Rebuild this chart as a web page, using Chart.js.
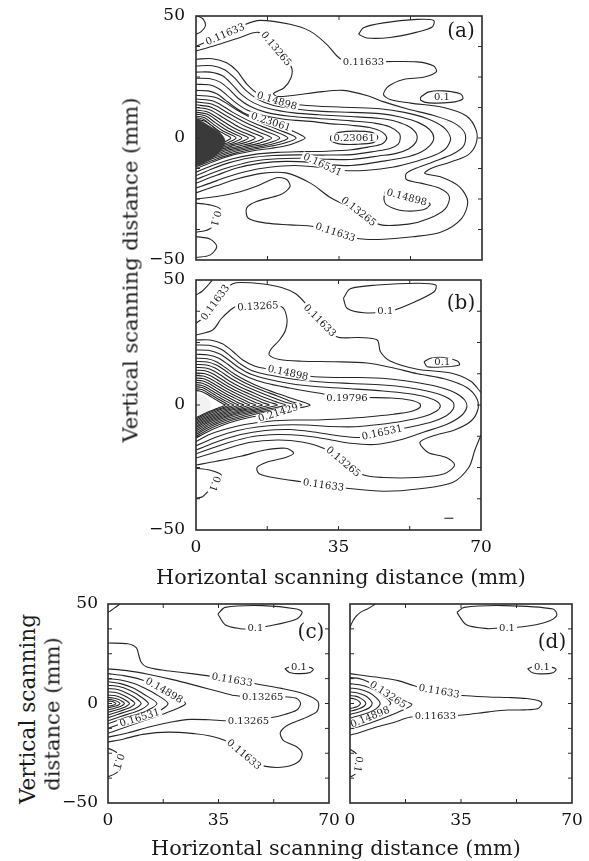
<!DOCTYPE html>
<html><head><meta charset="utf-8">
<script src="https://cdn.jsdelivr.net/npm/chart.js@4.4.1/dist/chart.umd.min.js"></script>
<style>
html,body{margin:0;padding:0;background:#fff;}
body{width:589px;height:861px;position:relative;overflow:hidden;font-family:"DejaVu Serif",serif;color:#1a1a1a;}
canvas{position:absolute;}
.t{position:absolute;white-space:nowrap;font-size:17px;line-height:1;transform:translate(-50%,-50%);}
.v{transform:translate(-50%,-50%) rotate(-90deg);}
.p{position:absolute;white-space:nowrap;font-size:20px;line-height:1;transform:translate(-50%,-50%);z-index:5;}
</style></head><body>
<canvas id="ca"></canvas><canvas id="cb"></canvas><canvas id="cc"></canvas><canvas id="cd"></canvas>
<div class="t v" data-w="345" style="left:130px;top:270px">Vertical scanning distance (mm)</div>
<div class="t" data-w="370" style="left:341px;top:577px">Horizontal scanning distance (mm)</div>
<div class="t v" data-w="190" style="left:28px;top:709px">Vertical scanning</div>
<div class="t v" data-w="153" style="left:52px;top:714px">distance (mm)</div>
<div class="t" data-w="370" style="left:336px;top:848px">Horizontal scanning distance (mm)</div>
<div class="p" style="left:461px;top:30px">(a)</div>
<div class="p" style="left:461px;top:302px">(b)</div>
<div class="p" style="left:311px;top:631px">(c)</div>
<div class="p" style="left:552px;top:641px">(d)</div>
<script>
// ---------- axis ticks ----------
const xTickValues = [0, 35, 70];
const yTickValues = [-50, 0, 50];
const xMinorTicks = [17.5, 35, 52.5];
const yMinorTicks = [-37.5, -25, -12.5, 0, 12.5, 25, 37.5];

// ---------- panel (a) contour lines [x mm, y mm] ----------
const a01TL = [[0.3,50],[1.7,48.8],[2.3,46],[1.2,43.5],[0,42.5]];
const a01TR = [[39.8,42.5],[41,45.2],[45.9,47.2],[54.1,48.6],[58.2,48.2],[57.8,45.5],[54.1,43.4],[47.5,41.2],[41.8,41],[39.8,42.5]];
const a01R = [[55,16.8],[57,18.9],[60.6,19.3],[64.8,18],[65.3,16],[62.3,14.6],[57,14.4],[55,15.5],[55,16.8]];
const a01BL1 = [[0,-26.7],[3.4,-27.4],[5.9,-29],[5.6,-32],[4.5,-35.5],[3.4,-37.2],[2.2,-38],[0,-38.6]];
const a01BL2 = [[0,-40.4],[3.4,-41.4],[5.1,-44.5],[3.4,-48],[0,-49]];
const a116 = [[0,37.5],[2,39],[7,42.5],[12,46.5],[15.7,48.2],[23,46.6],[27.9,43.8],[32,38.4],[34.5,33.6],[36.5,31.5],[41,31.3],[46,31.3],[54.1,31.2],[58.2,29.5],[58.8,27.1],[55.7,24.9],[50.8,24],[47.1,21.2],[45.9,17.8],[47.5,15.8],[52.5,14.3],[60.6,12.5],[66.2,9],[68.6,3],[68.5,-2.5],[66.5,-7],[62,-10],[57.5,-12.5],[56,-14.5],[60,-16],[64.5,-20],[66.5,-26],[65,-33],[60,-38.5],[53,-40.5],[46,-41.5],[40,-41.3],[34.1,-38.6],[29,-36.3],[23,-35.6],[17.3,-34.9],[12.8,-32.9],[12.4,-28.7],[14.8,-26],[20.6,-23.3],[23,-20],[22.2,-17],[19.7,-16.3],[14.8,-19.8],[10.8,-22],[5.1,-24],[0,-25]];
const a133 = [[0,35.7],[4.9,38],[10.8,41.2],[15.2,43.3],[18,39.5],[21,34],[23.4,28.8],[23.2,24.5],[21.5,20.5],[19,18.3],[19.8,17],[23,17.3],[31,19],[36,19.5],[42,17.3],[46,14.8],[52,11.8],[58,9.3],[63,6.3],[65.8,2],[65.6,-3],[63,-6.5],[58,-9.8],[54,-12.3],[51.5,-14.5],[51.5,-17],[55,-18.5],[59.5,-20.5],[62,-24],[61,-29],[57,-33],[52,-35.3],[45,-35.5],[39.8,-30.1],[33,-24.5],[28,-18.5],[22,-14.3],[16,-14.5],[10,-16.8],[5,-19.6],[0,-22.5]];
const a149 = [[0,32.3],[4,32.5],[7.5,30.8],[10,27.5],[12.5,22],[15.5,17.8],[20,15],[25,13.6],[30,13],[38,12.5],[45,12],[51,10.5],[56.5,8],[60.5,4.5],[62.3,0],[61.3,-4],[58.5,-7],[54,-9.5],[48,-12],[42,-13.2],[36,-13.3],[30,-12],[24,-11.3],[18,-12],[12,-13.8],[7,-16.3],[3.5,-18.5],[0,-20.5]];
const a149Loop = [[46.3,-22],[46,-25],[46.7,-27.5],[50.7,-29.8],[55.6,-29.4],[57.3,-27.4],[57,-26.5],[52,-24],[46.3,-22]];
const a165 = [[0,29.5],[4,29.6],[7,28],[9.5,24.5],[12,19.8],[15,16],[19,13.3],[25,11.8],[30,11],[38,10.5],[45,10],[50,8.6],[54.5,6.3],[57.3,3.2],[58.2,0],[57.3,-3],[55,-5.8],[51,-8],[45,-9.7],[38,-11.3],[33,-11],[28,-10],[22,-9.6],[16,-10.3],[10,-12.3],[5,-15.3],[0,-18.5]];
const a182 = [[0,27],[3.5,27],[6.5,25.5],[8.8,22],[11,18],[14,14.5],[18,12],[24,10.3],[30,9.5],[38,8.8],[45,8],[49,6.8],[52.3,4.5],[54,1.5],[53.8,-1.8],[52,-4.5],[49,-6.3],[45,-7.3],[38,-8.8],[32,-8.7],[26,-8.3],[20,-8.5],[14,-9.5],[8.5,-11.8],[4,-14.3],[0,-17]];
const a198 = [[0,24.5],[3.5,24.3],[6,22.8],[8.2,19.8],[10.3,16.3],[13.2,13],[17,10.6],[23,8.9],[30,8],[38,7],[44,6],[47.5,4.5],[49.7,2],[50,0],[49.5,-2.5],[47.5,-4.3],[44,-5.4],[38,-6.8],[31,-7],[25,-6.9],[19,-7.2],[13,-8.2],[8,-10.2],[4,-12.6],[0,-15.5]];
const a214 = [[0,22],[3.2,21.8],[5.5,20.3],[7.6,17.5],[9.7,14.5],[12.5,11.5],[16.5,9.2],[22,7.6],[28,6.8],[32,6],[38,5.2],[42.5,4.3],[45.5,2.5],[46.7,0],[45.5,-2.5],[42.5,-3.6],[38,-4.8],[32,-5.4],[26,-5.6],[20,-5.9],[14,-6.8],[9,-8.5],[4.5,-11],[0,-14]];
const a231L = [[0,19.5],[3,19.3],[5.2,18],[7.2,15.5],[9.3,12.8],[12,10],[15,8],[18.5,6.2],[22,4],[25,1.8],[26.7,0],[25,-1.5],[22,-3.2],[18.5,-4.2],[14,-5.2],[9.5,-6.8],[5,-9.2],[0,-12.5]];
const a231R = [[33,0.8],[35,2.3],[39,2.8],[43,2.3],[44.5,0.5],[43.5,-1.8],[39,-2.6],[35,-2.4],[33,-1],[33,0.8]];
const aInner = [
  [[0,17.5],[5,16.5],[10,11.5],[15,7],[20,3.5],[24.5,0],[20,-2.8],[15,-4.3],[10,-6],[5,-8.6],[0,-11.8]],
  [[0,16],[4.5,15],[9,10.5],[14,6.2],[18.5,3.2],[22.5,0],[18.5,-2.6],[14,-4],[9,-5.7],[4.5,-8.2],[0,-11.2]],
  [[0,14.8],[4,13.8],[8.5,9.6],[13,5.6],[17,2.8],[20.5,0],[17,-2.4],[13,-3.7],[8.5,-5.3],[4,-7.9],[0,-10.8]],
  [[0,13.6],[3.7,12.6],[7.8,8.7],[11.8,5],[15.3,2.5],[18.5,0],[15.3,-2.2],[11.8,-3.5],[7.8,-5],[3.7,-7.5],[0,-10.3]],
  [[0,12.5],[3.3,11.6],[7,8],[10.5,4.5],[13.7,2.2],[16.5,0],[13.7,-2],[10.5,-3.3],[7,-4.8],[3.3,-7.1],[0,-9.8]],
  [[0,11.5],[3,10.6],[6.2,7.3],[9.3,4.1],[12,2],[14.5,0],[12,-1.9],[9.3,-3.1],[6.2,-4.6],[3,-6.8],[0,-9.4]],
  [[0,10.6],[2.7,9.8],[5.5,6.7],[8.2,3.8],[10.6,1.8],[12.8,0],[10.6,-1.8],[8.2,-3],[5.5,-4.4],[2.7,-6.5],[0,-9]],
  [[0,9.8],[2.4,9],[4.8,6.2],[7.2,3.5],[9.3,1.7],[11.2,0],[9.3,-1.7],[7.2,-2.9],[4.8,-4.2],[2.4,-6.2],[0,-8.6]],
  [[0,9],[2.1,8.3],[4.2,5.7],[6.3,3.2],[8.2,1.6],[9.8,0],[8.2,-1.6],[6.3,-2.8],[4.2,-4],[2.1,-5.9],[0,-8.2]],
  [[0,8.4],[1.8,7.7],[3.7,5.3],[5.5,3],[7.1,1.5],[8.5,0],[7.1,-1.5],[5.5,-2.7],[3.7,-3.8],[1.8,-5.6],[0,-7.8]]
];
const aCore = [
  [[0,7.6],[2,7],[4.2,4.6],[5.6,2.2],[6.3,0],[5.6,-2.6],[4.2,-5],[2,-7.4],[0,-8.5]],
  [[0,6.8],[1.7,6.2],[3.5,4.1],[4.7,2],[5.3,0],[4.7,-2.4],[3.5,-4.5],[1.7,-6.6],[0,-7.6]],
  [[0,6],[1.4,5.4],[2.9,3.6],[3.9,1.8],[4.4,0],[3.9,-2.1],[2.9,-4],[1.4,-5.8],[0,-6.8]],
  [[0,5.2],[1.1,4.7],[2.3,3.1],[3.1,1.5],[3.5,0],[3.1,-1.8],[2.3,-3.5],[1.1,-5],[0,-6]],
  [[0,4.4],[0.9,4],[1.8,2.6],[2.4,1.2],[2.7,0],[2.4,-1.5],[1.8,-3],[0.9,-4.3],[0,-5.2]]
];
const aDarkCore = [[0,8.2],[3.4,4.8],[6.3,1.4],[7.1,-1.4],[5.9,-5.5],[2.6,-9.6],[0,-11],[0,8.2]];
const aWhiteArc = [[0,8.4],[3.4,5],[6.4,1.5],[7.3,-1.4],[6,-5.6],[2.6,-9.8],[0,-11.2]];
const aLabels = [
  ['0.11633', 7.1, 42.5, -23], ['0.13265', 19.6, 36.6, 50], ['0.11633', 41, 31.3, 0],
  ['0.1', 60.2, 16.9, 0], ['0.14898', 19.8, 15.2, 17], ['0.23061', 18.3, 6.6, 18],
  ['0.23061', 38.7, 0.2, 0], ['0.16531', 31, -10.9, 25], ['0.14898', 51.6, -24.3, 15],
  ['0.13265', 39.8, -30.1, 38], ['0.11633', 34.1, -38.6, 18], ['0.1', 4.8, -33, 105]
];

// ---------- panel (b) ----------
const b01TL = [[4,50],[3,48],[1.5,45.5],[0,44]];
const b01TR = [[36.2,42.7],[37.9,46.5],[44.5,48],[54.4,48.7],[58.9,48],[58.5,45.3],[52.7,40.5],[47.8,37.6],[41.2,36.9],[37.1,38.7],[36.2,42.7]];
const b01R = [[56,17.3],[57.6,18.7],[60.9,19],[64.2,17.6],[64.7,16],[60.9,15.3],[56.8,15.3],[56,17.3]];
const b01BL = [[0,-25.3],[3.3,-26],[6.2,-28],[5,-31.5],[3,-34.5],[1.6,-36.7],[0,-37.3]];
const bDash = [[61,-45.3],[63.2,-45.3]];
const b116U = [[0,32.7],[1.6,34.7],[3.5,38.5],[5.5,42.5],[7.5,46.5],[9,48.5],[11,49],[16,48.5],[21,47],[24.5,44.5],[27,40.5],[30.5,34],[34.6,27.3],[40,27],[44.5,26],[45.3,21.3],[47.8,17.5],[54.4,14.3],[62.6,12.8],[67.5,9.5],[70,5]];
const b116L = [[70,-12],[68.5,-18],[67,-25],[63,-31],[55,-33.5],[46,-34.5],[37,-33.3],[31.3,-32],[26,-30.7],[20,-29.3],[15.5,-27.5],[15,-25],[17.5,-22.8],[22,-21],[24,-19.2],[22,-17.3],[17,-18],[11,-20.5],[5,-22.5],[0,-24]];
const b133 = [[0,28],[4.1,30],[6.2,34.5],[8.6,38.2],[10,39.5],[15,39.7],[21,39.3],[22.3,35],[22,30],[20.5,26],[18.5,22.5],[18,20],[20.5,18.2],[26,17.5],[34,17.3],[42,16.8],[48,15],[54.4,12.5],[61,10.5],[66.5,7],[69,2.5],[69.2,-2],[67.5,-6.5],[63.5,-10],[58,-12.5],[55,-15],[57,-19],[61.5,-21],[63.5,-24],[61,-27.5],[54,-29],[46,-29],[41.2,-28],[36.2,-22.7],[31.3,-17.3],[26,-14.8],[20,-14],[13,-15],[7,-17.8],[0,-21.2]];
const b149 = [[0,26],[3.5,26],[6.5,24.5],[9,21.5],[11.5,18],[14.5,15.5],[18,14.3],[23,13],[28,11.5],[34,11],[40,11],[47,10.5],[53,9.3],[59,7.5],[63.5,5],[66,2],[66.5,-1],[65,-4.5],[61.5,-7.8],[56,-10.8],[50,-14],[44,-15.8],[38,-15.3],[32,-13.6],[26,-12.2],[20,-11.8],[14,-12.6],[8,-15],[3.5,-17.5],[0,-19.5]];
const b165 = [[0,24],[3.5,23.8],[6.2,22.3],[8.5,19.5],[11,16.3],[14,13.6],[18,12],[24,10.3],[30,9.3],[38,8.6],[46,8],[52,7],[57,5.5],[61,3.5],[63.2,1],[63.2,-1.5],[61.5,-4.3],[57.5,-7],[51,-9.3],[46,-11],[40.4,-13],[35,-12.3],[29,-10.8],[23,-9.8],[17,-10.2],[11,-11.8],[5.5,-14.5],[0,-18]];
const b182 = [[0,22],[3.3,21.8],[6,20.3],[8.2,17.8],[10.5,15],[13.5,12.3],[17.5,10.4],[23,8.6],[30,7.3],[38,6.5],[46,5.6],[52,4.6],[56.5,3.2],[59.3,1.3],[60,-0.5],[59,-2.5],[56,-4.6],[51,-6.4],[45,-7.8],[39,-8.7],[33,-8.6],[27,-8],[21,-8],[15,-8.8],[10,-10.3],[5,-12.8],[0,-16.3]];
const b198 = [[0,20.3],[3,20],[5.6,18.7],[7.8,16.3],[10,13.6],[13,11],[17,8.8],[23,6.8],[30,4.8],[36,3.3],[42,3],[48,2.8],[52.5,2],[55,0.5],[55,-1],[53,-2.5],[48.5,-3.7],[42,-4.8],[36,-5.5],[30,-6],[24,-6],[18,-6.5],[12,-7.8],[6.5,-10],[3,-12],[0,-14.7]];
const b214 = [[0,18.7],[2.8,18.5],[5,17.3],[7.2,15],[9.5,12.3],[12.5,9.6],[16,7],[20,4.6],[24,2.4],[28,0],[25,-1.3],[21,-2.8],[17,-3.8],[12.5,-5.2],[8,-7.2],[4,-9.8],[0,-13.2]];
const bInner = [
  [[0,17.4],[2.8,17.2],[5,16],[7.2,13.7],[9.5,11.1],[12.5,8.5],[16,6],[20,3.6],[23.5,1.3],[26,0],[23.5,-1.1],[20,-2.2],[16,-3.2],[12.5,-4.5],[8,-6.5],[4,-9],[0,-12.5]],
  [[0,16.2],[2.6,16],[4.7,14.8],[6.8,12.6],[9,10.2],[11.8,7.8],[15,5.5],[18.5,3.2],[21.8,1.2],[24,0],[21.8,-1],[18.5,-2],[15,-2.9],[11.8,-4.1],[7.6,-6],[3.8,-8.4],[0,-11.8]],
  [[0,15],[2.4,14.8],[4.4,13.6],[6.4,11.6],[8.5,9.3],[11,7.1],[14,5],[17,2.9],[20,1.1],[22,0],[20,-0.9],[17,-1.8],[14,-2.7],[11,-3.8],[7.2,-5.6],[3.6,-7.9],[0,-11.1]],
  [[0,13.9],[2.2,13.7],[4.1,12.5],[6,10.6],[8,8.5],[10.3,6.5],[13,4.5],[15.6,2.6],[18.2,1],[20,0],[18.2,-0.8],[15.6,-1.7],[13,-2.5],[10.3,-3.5],[6.8,-5.2],[3.4,-7.4],[0,-10.4]],
  [[0,12.8],[2,12.6],[3.8,11.5],[5.6,9.7],[7.5,7.8],[9.6,5.9],[12,4.1],[14.3,2.4],[16.4,0.9],[18,0],[16.4,-0.8],[14.3,-1.6],[12,-2.3],[9.6,-3.3],[6.4,-4.9],[3.2,-6.9],[0,-9.7]],
  [[0,11.8],[1.8,11.6],[3.5,10.5],[5.2,8.9],[7,7.1],[8.9,5.4],[11,3.7],[13,2.2],[14.9,0.8],[16.3,0],[14.9,-0.7],[13,-1.5],[11,-2.2],[8.9,-3.1],[6,-4.6],[3,-6.5],[0,-9]],
  [[0,10.8],[1.7,10.6],[3.2,9.6],[4.8,8.1],[6.4,6.5],[8.2,4.9],[10,3.4],[11.8,2],[13.4,0.7],[14.7,0],[13.4,-0.7],[11.8,-1.4],[10,-2.1],[8.2,-2.9],[5.6,-4.3],[2.8,-6.1],[0,-8.4]],
  [[0,9.9],[1.5,9.7],[2.9,8.8],[4.4,7.4],[5.9,5.9],[7.5,4.4],[9.1,3.1],[10.7,1.8],[12.1,0.7],[13.2,0],[12.1,-0.6],[10.7,-1.3],[9.1,-1.9],[7.5,-2.7],[5.2,-4],[2.6,-5.7],[0,-7.8]],
  [[0,9],[1.4,8.8],[2.6,8],[4,6.7],[5.4,5.3],[6.8,4],[8.2,2.8],[9.6,1.6],[10.8,0.6],[11.8,0],[10.8,-0.6],[9.6,-1.2],[8.2,-1.8],[6.8,-2.5],[4.8,-3.7],[2.4,-5.3],[0,-7.2]],
  [[0,8.1],[1.3,7.9],[2.4,7.2],[3.6,6],[4.9,4.8],[6.1,3.6],[7.4,2.5],[8.6,1.4],[9.7,0.5],[10.5,0],[9.7,-0.5],[8.6,-1.1],[7.4,-1.7],[6.1,-2.3],[4.4,-3.4],[2.2,-4.9],[0,-6.6]],
  [[0,7.3],[1.2,7.1],[2.2,6.5],[3.3,5.4],[4.4,4.3],[5.5,3.2],[6.6,2.2],[7.7,1.3],[8.6,0.5],[9.3,0],[8.6,-0.5],[7.7,-1],[6.6,-1.5],[5.5,-2.1],[4,-3.1],[2,-4.5],[0,-6.1]],
  [[0,6.5],[1,6.3],[2,5.8],[3,4.8],[4,3.8],[5,2.8],[6,1.9],[6.9,1.1],[7.6,0.4],[8.2,0],[7.6,-0.4],[6.9,-0.9],[6,-1.4],[5,-1.9],[3.6,-2.8],[1.8,-4.1],[0,-5.6]],
  [[0,5.8],[0.9,5.6],[1.8,5.1],[2.7,4.3],[3.6,3.4],[4.5,2.5],[5.3,1.7],[6.1,1],[6.7,0.4],[7.2,0],[6.7,-0.4],[6.1,-0.8],[5.3,-1.3],[4.5,-1.8],[3.2,-2.6],[1.6,-3.8],[0,-5.1]]
];
const bLightCore = [[0,4.6],[1.6,3.9],[3,2.4],[3.7,0],[3,-2.3],[1.6,-3.6],[0,-4.2],[0,4.6]];
const bLabels = [
  ['0.11633', 4.7, 41, -54], ['0.13265', 15.2, 39.5, -3], ['0.11633', 30.4, 33.8, 45],
  ['0.1', 46.5, 37.6, 0], ['0.1', 60.5, 17.2, 0], ['0.14898', 22.6, 12.9, 12],
  ['0.19796', 37.1, 3, 0], ['0.21429', 20.2, -3.1, -17], ['0.16531', 45.7, -11, -12],
  ['0.13265', 36.2, -22.7, 40], ['0.11633', 31.3, -32, 8], ['0.1', 4.6, -31.5, 110]
];

// ---------- panel (c) ----------
const c01TL = [[3.8,50],[2.5,48.5],[1.2,47],[0,45.8]];
const c01TR = [[34.8,45],[37.1,48.3],[49,49.2],[59.8,47.5],[61.5,45.8],[59.8,42.5],[51.4,39.1],[44.5,37.6],[41.9,37.6],[37.1,39.6],[34.8,45]];
const c01R = [[56,17.5],[57.5,15.6],[61,15],[64,15.6],[65,17.2],[63,18.4],[58,18.6],[56,17.5]];
const c01BL = [[0,-22.5],[1.5,-23.5],[3.5,-25.5],[4.2,-29],[3.8,-33],[2,-35.5],[0,-36.8]];
const c116 = [[0,30.4],[6.2,30],[9,28],[9.8,24],[10.5,20.7],[12.1,18.5],[17,16.8],[22.9,15.7],[31.2,14],[36,12.8],[42,11],[46.7,9.9],[55,7.6],[62.1,4.8],[66.5,1],[66.2,-4],[62,-7.5],[57,-10.8],[54.6,-14.5],[55.5,-18.5],[59.5,-21.5],[61.5,-25],[60.5,-29],[56.2,-31.8],[50,-31.6],[45.5,-28.5],[41,-23],[37.1,-18.6],[32,-16.2],[27.6,-15.2],[19.3,-14.4],[11,-15.5],[5,-17.8],[0,-19.4]];
const c133 = [[0,17.4],[6,16.5],[13,14.6],[20.5,12],[28.8,8.6],[35,6],[40,4],[45,3.4],[52,3.3],[57,3.3],[59.8,2.5],[61,0],[59.8,-3.3],[56,-5.5],[51.4,-7.2],[45,-8.5],[38,-8.7],[32,-8.2],[26,-8],[20.5,-9.2],[13.3,-11.7],[6.2,-14.8],[0,-16.9]];
const c149 = [[0,15],[5,14],[9.5,12.5],[13,10.5],[17,7.5],[21,4],[24.6,0],[21.5,-2.8],[17.5,-5.3],[12.5,-8],[7,-11],[3,-13.3],[0,-15]];
const c165 = [[0,12.5],[4,11.8],[8,10.2],[11.5,7.8],[15,4.8],[19,0],[16.5,-3.5],[13,-5.6],[9,-7.6],[5,-9.7],[0,-12.5]];
const cInner = [
  [[0,10.9],[4,10],[8,7.8],[11.5,4.5],[15.5,0],[12.5,-3.5],[9,-5.5],[5,-7.4],[0,-10.2]],
  [[0,9.2],[3.5,8.5],[7,6.5],[10,3.8],[12.8,0],[10.5,-3],[7.5,-4.8],[4,-6.5],[0,-8.7]],
  [[0,7.5],[3,7],[6,5.2],[8.5,3],[10.5,0],[8.5,-2.6],[6,-4],[3,-5.5],[0,-7.2]],
  [[0,5.9],[2.5,5.5],[5,4],[7,2.2],[8.5,0],[7,-2],[5,-3.2],[2.5,-4.5],[0,-5.8]],
  [[0,4.2],[2,4],[4,3],[5.6,1.6],[6.8,0],[5.6,-1.6],[4,-2.6],[2,-3.5],[0,-4.4]],
  [[0,3],[1.6,2.8],[3.2,2.1],[4.4,1.1],[5.2,0],[4.4,-1.1],[3.2,-1.9],[1.6,-2.6],[0,-3.2]],
  [[0,2],[1.2,1.9],[2.4,1.4],[3.3,0.7],[3.8,0],[3.3,-0.8],[2.4,-1.3],[1.2,-1.8],[0,-2.1]],
  [[0,1.2],[1,1.1],[1.8,0.7],[2.5,0],[1.8,-0.8],[1,-1.1],[0,-1.3]]
];
const cLabels = [
  ['0.1', 46.7, 38, 0], ['0.1', 60.5, 18.4, 0], ['0.11633', 39.3, 11.9, 10],
  ['0.13265', 49, 3.3, 0], ['0.13265', 44.5, -8.7, 0], ['0.14898', 17.8, 6.6, 30],
  ['0.16531', 10, -7.2, -17], ['0.11633', 43.1, -25.6, 40], ['0.1', 3.3, -29, 110]
];

// ---------- panel (d) ----------
const d01TL = [[8,50],[5.5,47.5],[3.3,45.8],[1.5,43],[0.3,39.5],[0,38]];
const d01TR = [[33.7,45.8],[36,48.3],[48.6,49.2],[64,47.5],[65.2,44.2],[61.7,40.8],[54.5,38.6],[46.9,38],[43.8,37.6],[36.7,39.6],[33.7,45.8]];
const d01R = [[56,17.5],[57.5,15.5],[61,14.9],[64,15.5],[65,17.1],[63,18.4],[58,18.6],[56,17.5]];
const d01BL = [[0,-23],[1.5,-24.5],[2.8,-27],[2.9,-30],[2.5,-34],[1.2,-36],[0,-37]];
const d116 = [[0,15],[8.1,13.3],[15.2,11.5],[20,9],[24,7.2],[28,6.2],[32,5],[35.5,4],[43.8,3.3],[50,3],[55.7,2.5],[59.3,1.5],[60.5,0],[59.3,-2.5],[55,-3.2],[49.8,-3.3],[43.8,-4.2],[35.5,-5.8],[30,-6.3],[24,-6.5],[18.8,-6.9],[14,-9.4],[8.1,-11.9],[3.3,-14.4],[0,-16]];
const d133 = [[0,13],[3,12.5],[5.5,11],[9,7.8],[12.5,4.6],[16,1.8],[19.5,-0.5],[17,-3],[13,-5.8],[9,-8.3],[4.5,-10.8],[0,-12.8]];
const d149 = [[0,10],[3,9.4],[6,8],[9,5.5],[12,2],[12.8,0],[11,-3],[8,-5.5],[4,-7.7],[0,-9.5]];
const dInner = [
  [[0,7.8],[3,7.2],[6,5.5],[8.3,2.8],[9.5,0],[8.3,-2.6],[6,-4.5],[3,-6],[0,-7.4]],
  [[0,5.8],[2.4,5.3],[4.7,4],[6.3,2],[7,0],[6.2,-2],[4.6,-3.3],[2.4,-4.5],[0,-5.5]],
  [[0,4],[1.7,3.7],[3.3,2.7],[4.5,1.3],[5,0],[4.4,-1.4],[3.2,-2.4],[1.7,-3.2],[0,-3.9]],
  [[0,2.6],[1.2,2.4],[2.3,1.7],[3,0.8],[3.3,0],[2.9,-0.9],[2.2,-1.6],[1.1,-2.1],[0,-2.5]]
];
const dLabels = [
  ['0.1', 49.5, 38.1, 0], ['0.1', 60.5, 18.4, 0], ['0.11633', 28.1, 6.2, 10],
  ['0.11633', 26.9, -6.4, 0], ['0.13265', 12, 4.5, 33], ['0.14898', 6.3, -6.8, -22],
  ['0.1', 2.6, -30.5, 100]
];

// ---------- rendering ----------
const LINE = '#262626';
const LABELS = {};
const SERIF = '"DejaVu Serif", serif';

// fit the HTML titles to the reference widths
document.querySelectorAll('[data-w]').forEach(el => {
  const w = el.offsetWidth;
  el.style.fontSize = (17 * (+el.dataset.w) / w).toFixed(2) + 'px';
});

const labelPlugin = {
  id: 'clabels',
  afterDatasetsDraw(chart) {
    const cfg = LABELS[chart.canvas.id];
    if (!cfg) return;
    const ctx = chart.ctx, xs = chart.scales.x, ys = chart.scales.y;
    ctx.save();
    ctx.font = cfg.size + 'px ' + SERIF;
    ctx.textAlign = 'center';
    ctx.textBaseline = 'middle';
    for (const [t, x, y, r] of cfg.items) {
      const px = xs.getPixelForValue(x), py = ys.getPixelForValue(y);
      ctx.save();
      ctx.translate(px, py);
      ctx.rotate(r * Math.PI / 180);
      const w = ctx.measureText(t).width;
      ctx.fillStyle = '#fff';
      ctx.fillRect(-w / 2 - 2, -cfg.size * 0.42, w + 4, cfg.size * 0.84);
      ctx.fillStyle = '#1e1e1e';
      ctx.fillText(t, 0, 0.5);
      ctx.restore();
    }
    ctx.restore();
  }
};

const framePlugin = {
  id: 'frame',
  afterDatasetsDraw(chart) {
    const ctx = chart.ctx, a = chart.chartArea, xs = chart.scales.x, ys = chart.scales.y;
    ctx.save();
    ctx.strokeStyle = '#2a2a2a';
    ctx.lineWidth = 1.6;
    ctx.strokeRect(a.left, a.top, a.right - a.left, a.bottom - a.top);
    ctx.lineWidth = 1;
    ctx.beginPath();
    for (const v of xMinorTicks) {
      const p = xs.getPixelForValue(v);
      ctx.moveTo(p, a.top); ctx.lineTo(p, a.top + 4);
      ctx.moveTo(p, a.bottom); ctx.lineTo(p, a.bottom - 4);
    }
    for (const v of yMinorTicks) {
      const p = ys.getPixelForValue(v);
      ctx.moveTo(a.left, p); ctx.lineTo(a.left + 4, p);
      ctx.moveTo(a.right, p); ctx.lineTo(a.right - 4, p);
    }
    ctx.stroke();
    ctx.restore();
  }
};

function pts(arr) { return arr.map(p => ({x: p[0], y: p[1]})); }

function makePanel(id, area, o) {
  const yW = o.yW, xH = o.showX ? 30 : 0;
  const pad = {top: 26, right: 22, bottom: o.showX ? 4 : 26, left: 0};
  const cv = document.getElementById(id);
  const w = yW + (area.r - area.l) + pad.right;
  const h = pad.top + (area.b - area.t) + xH + pad.bottom;
  cv.width = w; cv.height = h;
  cv.style.width = w + 'px'; cv.style.height = h + 'px';
  cv.style.left = (area.l - yW) + 'px'; cv.style.top = (area.t - pad.top) + 'px';
  LABELS[id] = {items: o.labels, size: o.labelSize};
  const ds = [];
  (o.fills || []).forEach(f => ds.push({data: pts(f.d), showLine: true, fill: 'shape', backgroundColor: f.c, borderColor: f.c, borderWidth: 0.5, pointRadius: 0, tension: 0.3}));
  o.lines.forEach(d => ds.push({data: pts(d), showLine: true, fill: false, borderColor: LINE, borderWidth: 1.1, pointRadius: 0, tension: 0.3}));
  (o.dark || []).forEach(d => ds.push({data: pts(d), showLine: true, fill: false, borderColor: '#0a0a0a', borderWidth: 1, pointRadius: 0, tension: 0.3}));
  (o.white || []).forEach(d => ds.push({data: pts(d), showLine: true, fill: false, borderColor: '#f4f4f4', borderWidth: 2.6, pointRadius: 0, tension: 0.3}));
  (o.topFills || []).forEach(f => ds.push({data: pts(f.d), showLine: true, fill: 'shape', backgroundColor: f.c, borderColor: f.c, borderWidth: 0.5, pointRadius: 0, tension: 0.3}));
  const tickFont = {family: SERIF, size: 17};
  new Chart(cv, {
    type: 'scatter',
    data: {datasets: ds},
    options: {
      responsive: false, animation: false, devicePixelRatio: 1, events: [],
      layout: {padding: pad},
      plugins: {legend: {display: false}, tooltip: {enabled: false}},
      scales: {
        x: {type: 'linear', min: 0, max: 70,
            afterBuildTicks: s => { s.ticks = xTickValues.map(v => ({value: v})); },
            ticks: {display: o.showX, padding: 7, font: tickFont, color: '#111', maxRotation: 0, autoSkip: false},
            grid: {display: false, drawTicks: false}, border: {display: false},
            afterFit: s => { s.height = xH; }},
        y: {type: 'linear', min: -50, max: 50,
            afterBuildTicks: s => { s.ticks = yTickValues.map(v => ({value: v})); },
            ticks: {display: o.showY, padding: o.yPad, font: tickFont, color: '#111',
                    callback: v => v < 0 ? '\u2212' + (-v) : String(v)},
            grid: {display: false, drawTicks: false}, border: {display: false},
            afterFit: s => { s.width = yW; }}
      }
    },
    plugins: [labelPlugin, framePlugin]
  });
}

makePanel('ca', {l: 196, t: 16, r: 482, b: 260}, {
  yW: 60, yPad: 11, showX: false, showY: true, labelSize: 10, labels: aLabels,
  fills: [{d: aDarkCore, c: '#3a3a3a'}],
  lines: [a01TL, a01TR, a01R, a01BL1, a01BL2, a116, a133, a149, a149Loop, a165, a182, a198, a214, a231L, a231R, ...aInner],
  dark: aCore, white: [aWhiteArc]
});
makePanel('cb', {l: 196, t: 280, r: 481, b: 530}, {
  yW: 60, yPad: 11, showX: true, showY: true, labelSize: 10, labels: bLabels,
  lines: [b01TL, b01TR, b01R, b01BL, bDash, b116U, b116L, b133, b149, b165, b182, b198, b214, ...bInner],
  topFills: [{d: bLightCore, c: '#f2f2f2'}]
});
makePanel('cc', {l: 108, t: 604, r: 329, b: 803}, {
  yW: 50, yPad: 10, showX: true, showY: true, labelSize: 10, labels: cLabels,
  lines: [c01TL, c01TR, c01R, c01BL, c116, c133, c149, c165, ...cInner]
});
makePanel('cd', {l: 350, t: 604, r: 572, b: 803}, {
  yW: 20, yPad: 8, showX: true, showY: false, labelSize: 10, labels: dLabels,
  lines: [d01TL, d01TR, d01R, d01BL, d116, d133, d149, ...dInner]
});
</script>
</body></html>
